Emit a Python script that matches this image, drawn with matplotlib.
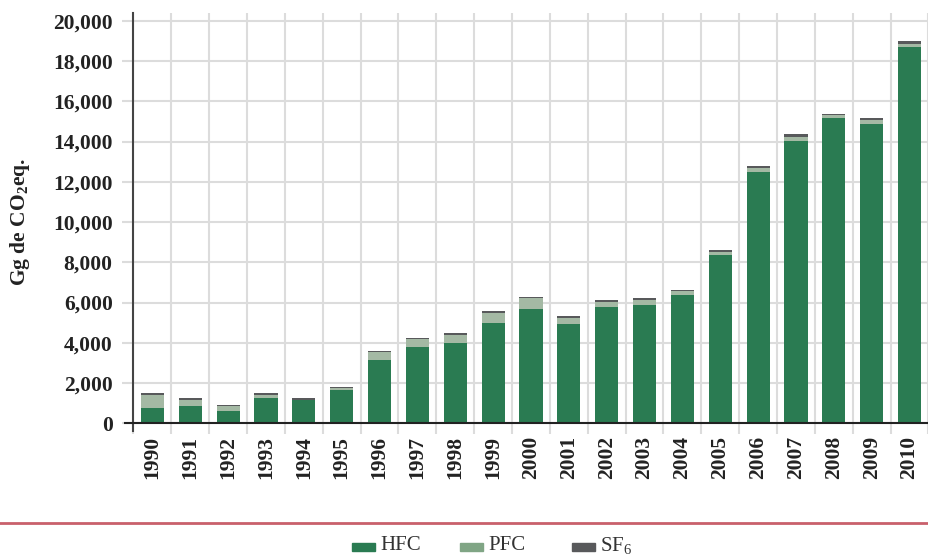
import matplotlib
matplotlib.use("Agg")
import matplotlib.pyplot as plt
from matplotlib.patches import Rectangle
from matplotlib.lines import Line2D
import numpy as np

plt.rcParams['font.family'] = ['Liberation Serif', 'DejaVu Serif']
plt.rcParams['mathtext.fontset'] = 'custom'
plt.rcParams['mathtext.rm'] = 'Liberation Serif'
plt.rcParams['mathtext.bf'] = 'Liberation Serif:bold'

years = [str(y) for y in range(1990, 2011)]
hfc = [760, 858, 610, 1255, 1160, 1650, 3140, 3785, 3985, 4975, 5670, 4925,
       5770, 5870, 6365, 8350, 12465, 14050, 15190, 14895, 18710]
pfc = [645, 300, 248, 150, 10, 115, 400, 400, 400, 500, 545, 300,
       250, 250, 200, 150, 200, 150, 150, 150, 150]
sf6 = [84, 84, 65, 85, 75, 35, 50, 50, 100, 100, 40, 100,
       100, 100, 50, 100, 100, 150, 50, 100, 150]
yticks = list(range(0, 20001, 2000))

c_hfc = '#2a7b52'
c_pfc = '#a4b9a4'
c_pfc_leg = '#80a585'
c_sf6 = '#58595b'
grid_c = '#dcdcdc'

W, H = 929, 557
fig = plt.figure(figsize=(W / 100, H / 100), dpi=100)
left, right = 133.5, 928.5
top, bottom = 12.7, 423.3
ax = fig.add_axes([left / W, 1 - bottom / H, (right - left) / W, (bottom - top) / H])

x = np.arange(len(years))
hfc_a = np.array(hfc)
pfc_a = np.array(pfc)
sf6_a = np.array(sf6)
bw = 0.61
ax.bar(x, hfc_a, width=bw, color=c_hfc, zorder=3)
ax.bar(x, pfc_a, width=bw, bottom=hfc_a, color=c_pfc, zorder=3)
ax.bar(x, sf6_a, width=bw, bottom=hfc_a + pfc_a, color=c_sf6, zorder=3)

ax.set_xlim(-0.5, len(years) - 0.5)
ax.set_ylim(0, 20400)
ax.set_yticks(yticks)
ax.set_yticklabels([f"{v:,}" for v in yticks], fontsize=15.5, fontweight='bold', color='#222222')
ax.set_xticks(x)
ax.set_xticklabels(years, rotation=90, fontsize=15.5, fontweight='bold', color='#222222')
ax.set_xticks(np.arange(-0.5, len(years), 1.0), minor=True)

ax.tick_params(axis='y', which='major', length=8, width=1.5, color=grid_c, pad=7)
ax.tick_params(axis='x', which='major', length=0, pad=9)
ax.tick_params(axis='x', which='minor', length=8, width=1.5, color=grid_c)

ax.grid(axis='y', which='major', color=grid_c, linewidth=1.5, zorder=0)
ax.grid(axis='x', which='minor', color=grid_c, linewidth=1.5, zorder=0)

for s in ['top', 'right']:
    ax.spines[s].set_visible(False)
ax.spines['left'].set_color('#444444')
ax.spines['left'].set_linewidth(1.5)
ax.spines['left'].set_zorder(4)
ax.spines['bottom'].set_color('#222222')
ax.spines['bottom'].set_linewidth(1.5)
ax.spines['bottom'].set_zorder(4)

# extend axis lines slightly beyond origin
ax.add_artist(Line2D([left / W - 8 / W, left / W], [1 - bottom / H] * 2,
                     transform=fig.transFigure, color='#222222', lw=1.5, clip_on=False))
ax.add_artist(Line2D([left / W] * 2, [1 - bottom / H, 1 - 431 / H],
                     transform=fig.transFigure, color='#444444', lw=1.5, clip_on=False))

fig.text(20 / W, 1 - 222 / H, r'Gg de CO$_\mathbf{2}$eq.', rotation=90, fontsize=15.5,
         fontweight='bold', color='#222222', ha='center', va='center')

# separator line
fig.add_artist(Line2D([0, 1], [1 - 523.3 / H] * 2, transform=fig.transFigure,
                      color='#c9606b', lw=2))

# legend
leg = [('HFC', c_hfc, 352), ('PFC', c_pfc_leg, 460), (r'SF$_6$', c_sf6, 572)]
for lab, col, px in leg:
    fig.add_artist(Rectangle((px / W, 1 - 551 / H), 23 / W, 8.5 / H,
                             transform=fig.transFigure, color=col))
    fig.text((px + 28) / W, 1 - 546 / H, lab, fontsize=15, color='#333333',
             ha='left', va='center')

fig.savefig('out.png', dpi=100)
